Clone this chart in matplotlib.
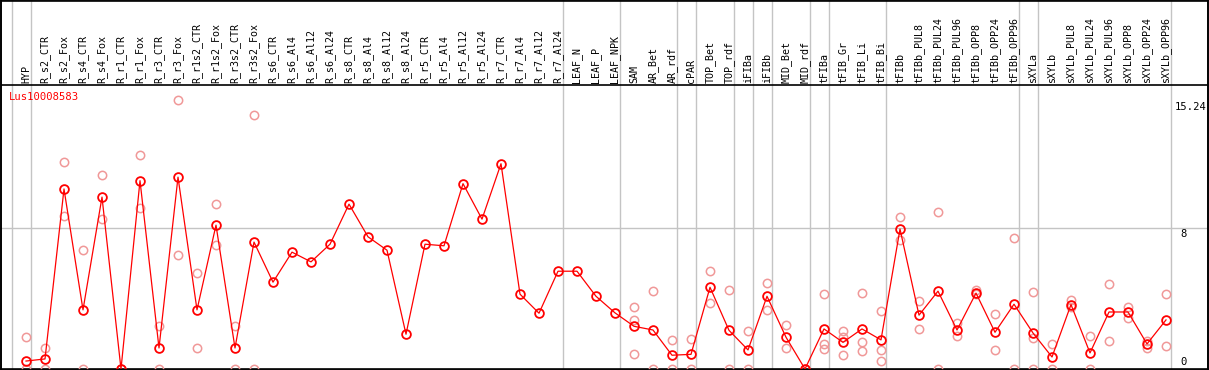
import matplotlib
matplotlib.use("Agg")
import matplotlib.pyplot as plt

categories = ["HYP", "R_s2_CTR", "R_s2_Fox", "R_s4_CTR", "R_s4_Fox", "R_r1_CTR", "R_r1_Fox",
              "R_r3_CTR", "R_r3_Fox", "R_r1s2_CTR", "R_r1s2_Fox", "R_r3s2_CTR", "R_r3s2_Fox",
              "R_s6_CTR", "R_s6_Al4", "R_s6_Al12", "R_s6_Al24", "R_s8_CTR", "R_s8_Al4", "R_s8_Al12",
              "R_s8_Al24", "R_r5_CTR", "R_r5_Al4", "R_r5_Al12", "R_r5_Al24", "R_r7_CTR", "R_r7_Al4",
              "R_r7_Al12", "R_r7_Al24", "LEAF_N", "LEAF_P", "LEAF_NPK", "SAM", "AR_Bet", "AR_rdf",
              "cPAR", "TOP_Bet", "TOP_rdf", "iFIBa", "iFIBb", "MID_Bet", "MID_rdf", "tFIBa",
              "tFIB_Gr", "tFIB_Li", "tFIB_Bi", "tFIBb", "tFIBb_PUL8", "tFIBb_PUL24", "tFIBb_PUL96",
              "tFIBb_OPP8", "tFIBb_OPP24", "tFIBb_OPP96", "sXYLa", "sXYLb", "sXYLb_PUL8",
              "sXYLb_PUL24", "sXYLb_PUL96", "sXYLb_OPP8", "sXYLb_OPP24", "sXYLb_OPP96"]

means = [0.45, 0.57, 10.2, 3.35, 9.74, 0.0, 10.67, 1.19, 10.87, 3.35, 8.15, 1.19, 7.19,
         4.92, 6.62, 6.07, 7.07, 9.34, 7.49, 6.73, 1.97, 7.07, 6.98, 10.5, 8.49, 11.63, 4.24,
         3.16, 5.54, 5.54, 4.12, 3.18, 2.42, 2.21, 0.78, 0.83, 4.63, 2.19, 1.08, 4.12, 1.8,
         0.0, 2.27, 1.51, 2.27, 1.65, 7.93, 3.05, 4.41, 2.21, 4.3, 2.08, 3.67, 2.04, 0.68,
         3.65, 0.91, 3.23, 3.23, 1.42, 2.78]

replicates = [[1.82, 0.0], [1.19, 0.0], [11.74, 8.68], [6.73, 0.0], [10.99, 8.49], [0.0],
              [12.12, 9.12], [2.44, 0.0], [15.24, 6.45], [5.45, 1.19], [9.34, 7.04], [2.44, 0.0],
              [14.39, 0.0], [], [], [], [], [], [], [], [], [], [], [], [], [], [], [], [],
              [], [], [], [3.5, 2.78, 0.83], [4.41, 0.0], [1.63, 0.0], [1.68, 0.0], [5.54, 3.73],
              [4.46, 0.0], [2.16, 0.0], [4.88, 3.33], [2.48, 1.19], [0.0], [4.26, 1.4, 1.12],
              [2.16, 1.8, 0.78], [4.31, 1.53, 1.02], [3.29, 1.06, 0.44], [8.62, 7.32],
              [3.84, 2.27], [8.91, 0.0], [2.61, 1.85], [4.46, 4.26], [3.12, 1.08], [7.41, 0.0],
              [4.35, 1.74, 0.0], [1.4, 0.0], [3.91, 3.5], [1.85, 0.0], [4.8, 1.57], [3.5, 2.91],
              [1.57, 1.21], [4.24, 1.3]]

group_ends = [-1, 0, 28, 31, 34, 35, 37, 38, 39, 41, 42, 45, 52, 53, 60]
gene = "Lus10008583"
ymax_value = 15.24
ytick_values = [8]

W, H = 1209, 370
fig = plt.figure(figsize=(W / 100, H / 100), dpi=100)
ax = fig.add_axes([1 / W, 1 / H, 1207 / W, 369 / H])

pxu_x = 19.0
pxu_y = 269.0 / ymax_value
x0 = -25.0 / pxu_x
ax.set_xlim(x0, x0 + 1207 / pxu_x)
ax.set_ylim(0, 369 / pxu_y)
header_v = 284 / pxu_y

ax.set_xticks([])
ax.set_yticks([])
for s in ax.spines.values():
    s.set_color("black")
    s.set_linewidth(1.2)

grey = "#c4c4c4"
for g in group_ends:
    ax.axvline(g + 0.25, color=grey, lw=1.0, zorder=1)
for t in ytick_values:
    ax.axhline(t, color=grey, lw=1.0, zorder=1)
ax.axhline(header_v, color="black", lw=1.2, zorder=2)

mono = "DejaVu Sans Mono"
xs = list(range(len(categories)))

# replicates
for i, reps in zip(xs, replicates):
    if reps:
        ax.plot([i] * len(reps), reps, linestyle="none", marker="o", markersize=6.0,
                markerfacecolor="none", markeredgecolor="#f09898", markeredgewidth=1.1, zorder=3)

ax.plot(xs, means, color="#ff0000", lw=0.9, marker="o", markersize=6.3,
        markerfacecolor="none", markeredgecolor="#ff0000", markeredgewidth=1.3, zorder=4)

for i, c in zip(xs, categories):
    ax.text(i, header_v + 2 / pxu_y, c, rotation=90, ha="center", va="bottom",
            fontsize=7.2, family=mono, color="black")

ax.text(x0 + 8 / pxu_x, (369 - 97) / pxu_y, gene, ha="left", va="center",
        fontsize=7.6, family=mono, color="#ff0000")

xr = x0 + 1206 / pxu_x
ax.text(xr, ymax_value - 2 / pxu_y, f"{ymax_value:.2f}", ha="right", va="top",
        fontsize=7.6, family=mono, color="black")
for t in ytick_values:
    ax.text(xr - 20 / pxu_x, t - 1 / pxu_y, f"{t}", ha="right", va="top",
            fontsize=7.6, family=mono, color="black")
ax.text(xr - 20 / pxu_x, 2 / pxu_y, "0", ha="right", va="bottom",
        fontsize=7.6, family=mono, color="black")

# outer frame
frame = plt.Rectangle((0.5 / W, 0.5 / H), 1 - 1.5 / W, 1 - 1 / H, transform=fig.transFigure,
                      fill=False, edgecolor="black", lw=1.2)
fig.patches.append(frame)

fig.savefig("out.png", dpi=100)
